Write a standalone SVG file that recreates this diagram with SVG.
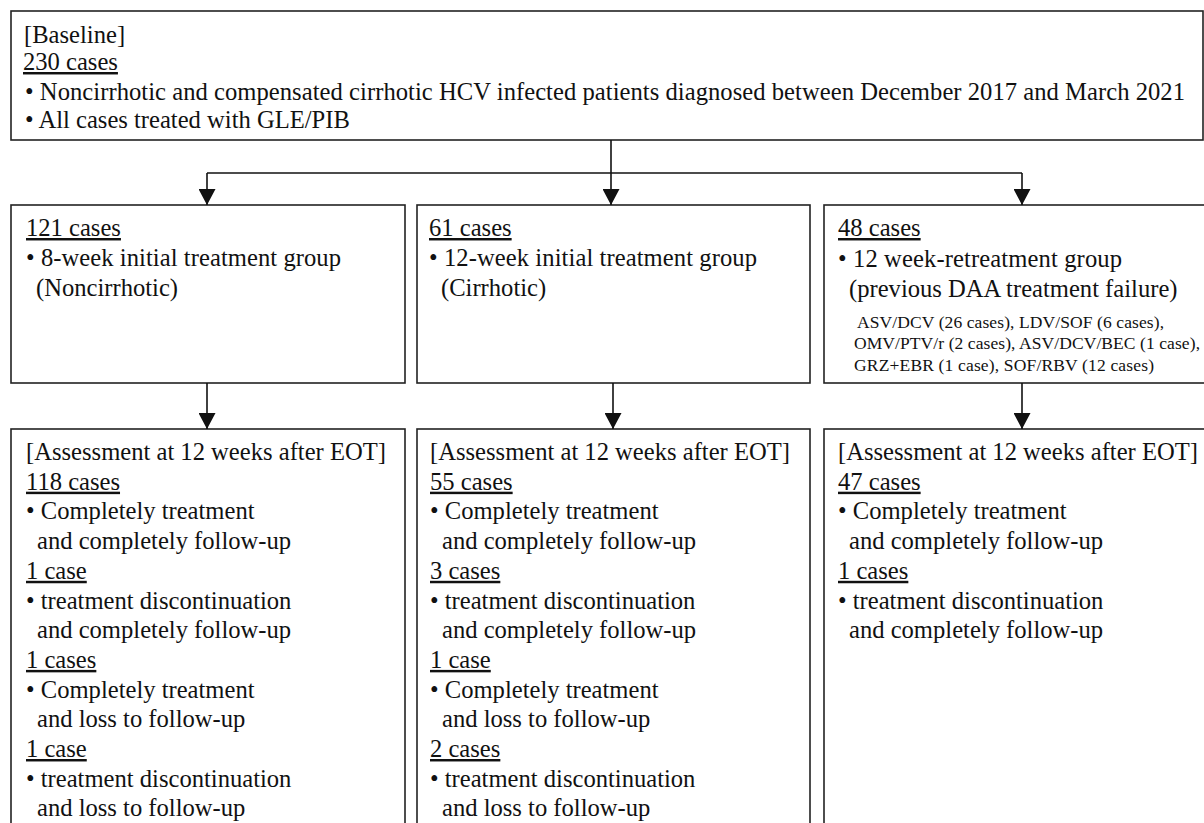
<svg xmlns="http://www.w3.org/2000/svg" width="1204" height="823" viewBox="0 0 1204 823">
<style>
.box{fill:#fff;stroke:#222;stroke-width:1.6}
.t{font-family:"Liberation Serif","Times New Roman",serif;fill:#111}
.f24{font-size:24.6px}
.f17{font-size:17.5px}
.u{text-decoration:underline}
.c{fill:none;stroke:#111;stroke-width:1.6}
</style>
<defs>
<marker id="ah" markerUnits="userSpaceOnUse" markerWidth="17" markerHeight="17" refX="16" refY="8.5" orient="auto">
<path d="M0,0 L16,8.5 L0,17 z" fill="#111"/>
</marker>
</defs>
<rect width="1204" height="823" fill="#fff"/>

<g id="baseline">
<rect class="box" x="11" y="11" width="1192" height="129"/>
<text class="t f24" x="24" y="43">[Baseline]</text>
<text class="t f24 u" x="23" y="70">230 cases</text>
<text class="t f24" x="25" y="100" textLength="1160" lengthAdjust="spacing">• Noncirrhotic and compensated cirrhotic HCV infected patients diagnosed between December 2017 and March 2021</text>
<text class="t f24" x="25" y="128">• All cases treated with GLE/PIB</text>
</g>

<g id="group8w">
<rect class="box" x="11" y="205" width="394" height="178"/>
<text class="t f24 u" x="26" y="236">121 cases</text>
<text class="t f24" x="26" y="266" textLength="315" lengthAdjust="spacing">• 8-week initial treatment group</text>
<text class="t f24" x="36" y="296">(Noncirrhotic)</text>
</g>

<g id="group12w">
<rect class="box" x="417" y="205" width="393" height="178"/>
<text class="t f24 u" x="429" y="236">61 cases</text>
<text class="t f24" x="429" y="266" textLength="328" lengthAdjust="spacing">• 12-week initial treatment group</text>
<text class="t f24" x="441" y="296">(Cirrhotic)</text>
</g>

<g id="groupRetreat">
<rect class="box" x="824" y="205" width="386" height="178"/>
<text class="t f24 u" x="838" y="236">48 cases</text>
<text class="t f24" x="838" y="267" textLength="284" lengthAdjust="spacing">• 12 week-retreatment group</text>
<text class="t f24" x="849" y="297">(previous DAA treatment failure)</text>
<text class="t f17" x="857" y="328" textLength="307" lengthAdjust="spacing">ASV/DCV (26 cases), LDV/SOF (6 cases),</text>
<text class="t f17" x="854" y="349" textLength="346" lengthAdjust="spacing">OMV/PTV/r (2 cases), ASV/DCV/BEC (1 case),</text>
<text class="t f17" x="854" y="371" textLength="300" lengthAdjust="spacing">GRZ+EBR (1 case), SOF/RBV (12 cases)</text>
</g>

<g id="assess8w">
<rect class="box" x="11" y="429" width="394" height="401"/>
<text class="t f24" x="26" y="460">[Assessment at 12 weeks after EOT]</text>
<text class="t f24 u" x="26" y="489.7">118 cases</text>
<text class="t f24" x="26" y="519.4">• Completely treatment</text>
<text class="t f24" x="37" y="549.1">and completely follow-up</text>
<text class="t f24 u" x="26" y="578.8">1 case</text>
<text class="t f24" x="26" y="608.5">• treatment discontinuation</text>
<text class="t f24" x="37" y="638.2">and completely follow-up</text>
<text class="t f24 u" x="26" y="667.9">1 cases</text>
<text class="t f24" x="26" y="697.6">• Completely treatment</text>
<text class="t f24" x="37" y="727.3">and loss to follow-up</text>
<text class="t f24 u" x="26" y="757">1 case</text>
<text class="t f24" x="26" y="786.7">• treatment discontinuation</text>
<text class="t f24" x="37" y="816.4">and loss to follow-up</text>
</g>

<g id="assess12w">
<rect class="box" x="417" y="429" width="393" height="401"/>
<text class="t f24" x="430" y="460">[Assessment at 12 weeks after EOT]</text>
<text class="t f24 u" x="430" y="489.7">55 cases</text>
<text class="t f24" x="430" y="519.4">• Completely treatment</text>
<text class="t f24" x="442" y="549.1">and completely follow-up</text>
<text class="t f24 u" x="430" y="578.8">3 cases</text>
<text class="t f24" x="430" y="608.5">• treatment discontinuation</text>
<text class="t f24" x="442" y="638.2">and completely follow-up</text>
<text class="t f24 u" x="430" y="667.9">1 case</text>
<text class="t f24" x="430" y="697.6">• Completely treatment</text>
<text class="t f24" x="442" y="727.3">and loss to follow-up</text>
<text class="t f24 u" x="430" y="757">2 cases</text>
<text class="t f24" x="430" y="786.7">• treatment discontinuation</text>
<text class="t f24" x="442" y="816.4">and loss to follow-up</text>
</g>

<g id="assessRetreat">
<rect class="box" x="824" y="429" width="386" height="401"/>
<text class="t f24" x="838" y="460">[Assessment at 12 weeks after EOT]</text>
<text class="t f24 u" x="838" y="489.7">47 cases</text>
<text class="t f24" x="838" y="519.4">• Completely treatment</text>
<text class="t f24" x="849" y="549.1">and completely follow-up</text>
<text class="t f24 u" x="838" y="578.8">1 cases</text>
<text class="t f24" x="838" y="608.5">• treatment discontinuation</text>
<text class="t f24" x="849" y="638.2">and completely follow-up</text>
</g>

<g id="connectors">
<path class="c" d="M611,140 V173"/>
<path class="c" d="M207,173 H1022"/>
<path class="c" d="M207,173 V205" marker-end="url(#ah)"/>
<path class="c" d="M611,173 V205" marker-end="url(#ah)"/>
<path class="c" d="M1022,173 V205" marker-end="url(#ah)"/>
<path class="c" d="M207,383 V429" marker-end="url(#ah)"/>
<path class="c" d="M613,383 V429" marker-end="url(#ah)"/>
<path class="c" d="M1022,383 V429" marker-end="url(#ah)"/>
</g>
</svg>
